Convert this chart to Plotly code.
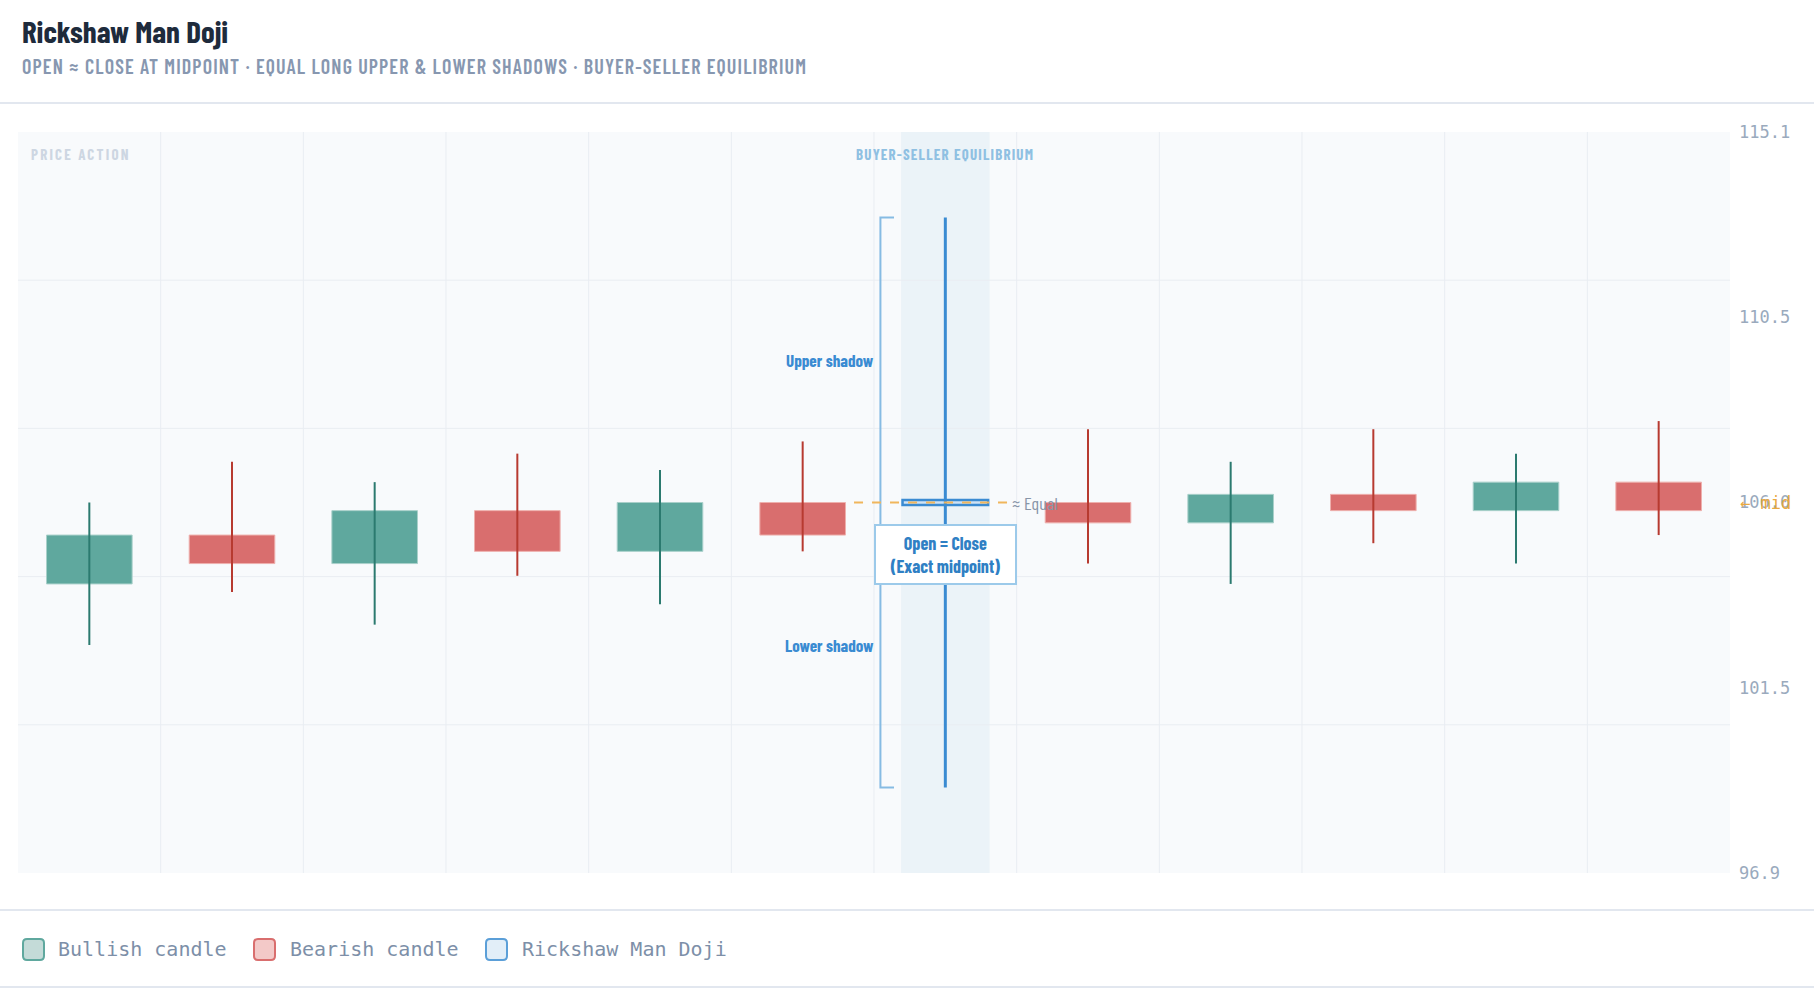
import plotly.graph_objects as go

# ---------------- data ----------------
candle_idx = list(range(12))
opens  = [104.0, 105.2, 104.5, 105.8, 104.8, 106.0, 106.0, 106.0, 105.5, 106.2, 105.8, 106.5]
closes = [105.2, 104.5, 105.8, 104.8, 106.0, 105.2, 106.0, 105.5, 106.2, 105.8, 106.5, 105.8]
highs  = [106.0, 107.0, 106.5, 107.2, 106.8, 107.5, 113.0, 107.8, 107.0, 107.8, 107.2, 108.0]
lows   = [102.5, 103.8, 103.0, 104.2, 103.5, 104.8,  99.0, 104.5, 104.0, 105.0, 104.5, 105.2]
doji_index = 6
tick_labels = ["96.9", "101.5", "106.0", "110.5", "115.1"]
legend_labels = ["Bullish candle", "Bearish candle", "Rickshaw Man Doji"]
title_text = "Rickshaw Man Doji"
subtitle_text = "OPEN ≈ CLOSE AT MIDPOINT · EQUAL LONG UPPER & LOWER SHADOWS · BUYER-SELLER EQUILIBRIUM"

# ---------------- style ----------------
COND = "Barlow Condensed, Roboto Condensed, Liberation Sans Narrow, Arial Narrow, DejaVu Sans Condensed, sans-serif"
MONO = "DejaVu Sans Mono, Liberation Mono, monospace"
BULL_FILL, BULL_WICK, BULL_EDGE = "#5fa89e", "#2b7a6f", "#a9d0ca"
BEAR_FILL, BEAR_WICK, BEAR_EDGE = "#d96e6e", "#b73a30", "#eeb0ad"
DOJI_BLUE = "#3a8bd2"
ORANGE = "#f0b65c"

FW, FH = 1814, 988
L, T, R, B = 18, 132, 1730, 873
W, H = R - L, B - T
def xp(px): return (px - L) / W
def yp(py): return (B - py) / H
def spaced(t, s): return f'<span style="letter-spacing:{s}px">{t}</span>'

lo, hi = min(lows), max(highs)
pad = (hi - lo) * 0.15
y0, y1 = lo - pad, hi + pad
tick_vals = [y0 + k * (y1 - y0) / 4 for k in range(5)]
grid_vals = [y0 + k * (y1 - y0) / 5 for k in range(1, 5)]
min_body = 0.12

fig = go.Figure()

def add_group(idxs, fill, edge, wick, wick_w, edge_w):
    xs = [candle_idx[i] for i in idxs]
    base = []
    hgt = []
    for i in idxs:
        b = min(opens[i], closes[i])
        h = abs(closes[i] - opens[i])
        if h < min_body:
            b = (opens[i] + closes[i]) / 2 - min_body / 2
            h = min_body
        base.append(b)
        hgt.append(h)
    fig.add_trace(go.Bar(x=xs, y=hgt, base=base, width=0.6,
                         marker=dict(color=fill, line=dict(color=edge, width=edge_w)),
                         showlegend=False, hoverinfo="skip"))
    wx, wy = [], []
    for i in idxs:
        wx += [candle_idx[i], candle_idx[i], None]
        wy += [lows[i], highs[i], None]
    fig.add_trace(go.Scatter(x=wx, y=wy, mode="lines", line=dict(color=wick, width=wick_w),
                             showlegend=False, hoverinfo="skip"))

bull = [i for i in candle_idx if i != doji_index and closes[i] > opens[i]]
bear = [i for i in candle_idx if i != doji_index and closes[i] <= opens[i]]
add_group(bull, BULL_FILL, BULL_EDGE, BULL_WICK, 2, 1)
add_group(bear, BEAR_FILL, BEAR_EDGE, BEAR_WICK, 2, 1)
add_group([doji_index], "#cfe2f3", DOJI_BLUE, DOJI_BLUE, 3, 2.5)

dx = candle_idx[doji_index]
mid = (highs[doji_index] + lows[doji_index]) / 2

shapes = []
shapes.append(dict(type="rect", xref="x", yref="paper", x0=dx - 0.31, x1=dx + 0.31, y0=0, y1=1,
                   fillcolor="rgba(70,150,200,0.07)", line=dict(width=0), layer="below"))
for g in grid_vals:
    shapes.append(dict(type="line", xref="paper", yref="y", x0=0, x1=1, y0=g, y1=g,
                       line=dict(color="#e9edf2", width=1), layer="below"))
for k in candle_idx[:-1]:
    shapes.append(dict(type="line", xref="x", yref="paper", x0=k + 0.5, x1=k + 0.5, y0=0, y1=1,
                       line=dict(color="#e9edf2", width=1), layer="below"))
bx = dx - 0.455
shapes.append(dict(type="path", xref="x", yref="y",
                   path=f"M {bx+0.095},{highs[doji_index]} L {bx},{highs[doji_index]} L {bx},{lows[doji_index]} L {bx+0.095},{lows[doji_index]}",
                   line=dict(color="#86bbe3", width=2)))
shapes.append(dict(type="line", xref="x", yref="y", x0=dx - 0.64, x1=dx + 0.45, y0=mid, y1=mid,
                   line=dict(color=ORANGE, width=2, dash="dash"), layer="above"))
for yy in (103, 910, 987):
    shapes.append(dict(type="line", xref="paper", yref="paper", x0=xp(0), x1=xp(FW), y0=yp(yy), y1=yp(yy),
                       line=dict(color="#e2e7ef", width=2)))

def rrect(px0, py0, size, r):
    px1, py1 = px0 + size, py0 + size
    return (f"M {xp(px0+r)},{yp(py0)} L {xp(px1-r)},{yp(py0)} Q {xp(px1)},{yp(py0)} {xp(px1)},{yp(py0+r)} "
            f"L {xp(px1)},{yp(py1-r)} Q {xp(px1)},{yp(py1)} {xp(px1-r)},{yp(py1)} "
            f"L {xp(px0+r)},{yp(py1)} Q {xp(px0)},{yp(py1)} {xp(px0)},{yp(py1-r)} "
            f"L {xp(px0)},{yp(py0+r)} Q {xp(px0)},{yp(py0)} {xp(px0+r)},{yp(py0)} Z")

legend_swatch_x = [23, 254, 486]
legend_text_x = [56, 288, 520]
legend_fill = ["#c4dbd8", "#f3c9c8", "#e2eef8"]
legend_edge = [BULL_FILL, BEAR_FILL, "#5b9fd8"]
for sx, fc, ec in zip(legend_swatch_x, legend_fill, legend_edge):
    shapes.append(dict(type="path", xref="paper", yref="paper", path=rrect(sx, 939, 21, 4),
                       fillcolor=fc, line=dict(color=ec, width=2)))

ann = []
ann.append(dict(xref="paper", yref="paper", x=xp(20), y=yp(31), xanchor="left", yanchor="middle",
                text=f"<b>{title_text}</b>", showarrow=False,
                font=dict(family=COND, size=31, color="#1e2b3c")))
ann.append(dict(xref="paper", yref="paper", x=xp(20), y=yp(66), xanchor="left", yanchor="middle",
                text=spaced(subtitle_text, 1.15), showarrow=False,
                font=dict(family=COND, size=20, color="#8797b0", weight=600)))
ann.append(dict(xref="paper", yref="paper", x=xp(29), y=yp(154), xanchor="left", yanchor="middle",
                text=spaced("<b>PRICE ACTION</b>", 2.2), showarrow=False,
                font=dict(family=COND, size=15, color="#cdd6e2")))
ann.append(dict(xref="x", yref="paper", x=dx, y=yp(154), xanchor="center", yanchor="middle",
                text=spaced("<b>BUYER-SELLER EQUILIBRIUM</b>", 1.2), showarrow=False,
                font=dict(family=COND, size=15, color="#8fc0e2")))
ann.append(dict(xref="x", yref="y", x=bx, y=(highs[doji_index] + mid) / 2, xanchor="right", yanchor="middle",
                xshift=-4, text="<b>Upper shadow</b>", showarrow=False,
                font=dict(family=COND, size=17, color=DOJI_BLUE)))
ann.append(dict(xref="x", yref="y", x=bx, y=(lows[doji_index] + mid) / 2, xanchor="right", yanchor="middle",
                xshift=-4, text="<b>Lower shadow</b>", showarrow=False,
                font=dict(family=COND, size=17, color=DOJI_BLUE)))
ann.append(dict(xref="x", yref="y", x=dx, y=mid, xanchor="center", yanchor="top", yshift=-21,
                text="<b>Open = Close</b><br><b>(Exact midpoint)</b>", showarrow=False,
                width=129, height=47, align="center", valign="middle",
                bgcolor="#ffffff", bordercolor="#9ccaea", borderwidth=2, borderpad=5,
                font=dict(family=COND, size=18, color="#2f80c4")))
ann.append(dict(xref="x", yref="y", x=dx + 0.45, y=mid, xanchor="left", yanchor="middle", xshift=0,
                text="≈ Equal", showarrow=False,
                font=dict(family=COND, size=18, color="#8795a8")))
ann.append(dict(xref="paper", yref="y", x=xp(1738), y=mid, xanchor="left", yanchor="middle",
                text="← mid", showarrow=False,
                font=dict(family=MONO, size=17, color="#eaa940")))
for tx, lab in zip(legend_text_x, legend_labels):
    ann.append(dict(xref="paper", yref="paper", x=xp(tx), y=yp(949), xanchor="left", yanchor="middle",
                    text=lab, showarrow=False, font=dict(family=MONO, size=20, color="#7d8fa8")))

fig.update_layout(
    width=FW, height=FH, autosize=False,
    margin=dict(l=L, r=FW - R, t=T, b=FH - B, pad=0),
    paper_bgcolor="#ffffff", plot_bgcolor="#f8fafc",
    barmode="overlay", showlegend=False,
    shapes=shapes, annotations=ann,
    xaxis=dict(range=[-0.5, 11.5], showgrid=False, zeroline=False, showticklabels=False,
               showline=False, ticks="", fixedrange=True),
    yaxis=dict(range=[y0, y1], side="right", tickvals=tick_vals, ticktext=tick_labels,
               showgrid=False, zeroline=False, showline=False, ticks="",
               ticklabelstandoff=8, tickfont=dict(family=MONO, size=17, color="#9aaabd"),
               fixedrange=True),
)

fig.write_html("out.html", config={"displayModeBar": False},
               post_script="document.body.style.margin='0';document.body.style.overflow='hidden';")
